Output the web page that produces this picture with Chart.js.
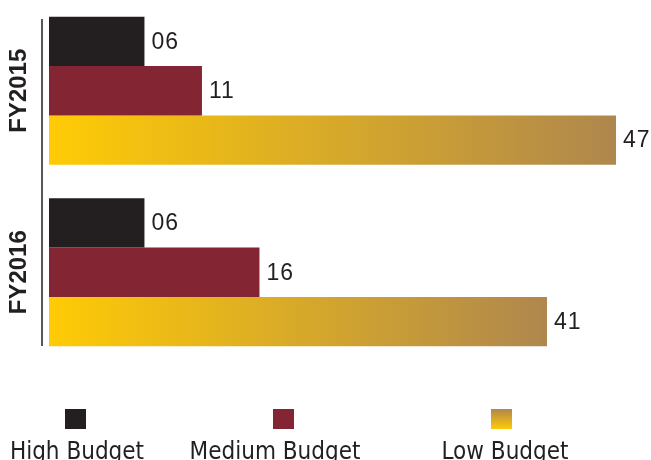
<!DOCTYPE html>
<html>
<head>
<meta charset="utf-8">
<script src="https://cdn.jsdelivr.net/npm/chart.js@4.4.0/dist/chart.umd.min.js"></script>
<style>
  html, body { margin: 0; padding: 0; background: #fff; }
  canvas { display: block; }
</style>
</head>
<body>
<canvas id="budgetChart" width="651" height="460"></canvas>
<script>
const years = ["FY2015", "FY2016"];
const seriesNames = ["High Budget", "Medium Budget", "Low Budget"];
const highBudget = [6, 6];
const mediumBudget = [11, 16];
const lowBudget = [47, 41];

// the infographic bars don't start at zero, so the value axis starts a bit below it
const axisStart = -2.3;
const axisEnd = 47;

const ink = "#231f20";
const maroon = "#842534";
const goldStops = ["#ffcb05", "#af874e"];

function goldBar(c) {
  const chart = c.chart;
  if (!chart.chartArea) return goldStops[0];
  const x = chart.scales.x;
  const x0 = x.getPixelForValue(axisStart);
  const x1 = x.getPixelForValue(c.raw);
  const g = chart.ctx.createLinearGradient(x0, 0, x1, 0);
  g.addColorStop(0, goldStops[0]);
  g.addColorStop(1, goldStops[1]);
  return g;
}

// axis line, rotated year labels, value labels, legend
const decorations = {
  id: "decorations",
  afterDatasetsDraw(chart) {
    const ctx = chart.ctx;
    const area = chart.chartArea;
    const y = chart.scales.y;
    ctx.save();

    ctx.strokeStyle = ink;
    ctx.lineWidth = 1.5;
    ctx.beginPath();
    ctx.moveTo(42, area.top + 19);
    ctx.lineTo(42, area.bottom - 17);
    ctx.stroke();

    ctx.fillStyle = ink;
    ctx.font = "bold 24px 'Liberation Sans', Arial, sans-serif";
    ctx.textAlign = "center";
    ctx.textBaseline = "middle";
    years.forEach((label, i) => {
      ctx.save();
      ctx.translate(19, y.getPixelForValue(i));
      ctx.rotate(-Math.PI / 2);
      ctx.fillText(label, 0, 0);
      ctx.restore();
    });

    ctx.font = "23px 'Liberation Sans', Arial, sans-serif";
    ctx.letterSpacing = "1px";
    ctx.textAlign = "left";
    chart.data.datasets.forEach((ds, di) => {
      chart.getDatasetMeta(di).data.forEach((bar, i) => {
        ctx.fillText(String(ds.data[i]).padStart(2, "0"), bar.x + 7, bar.y + 1);
      });
    });
    ctx.letterSpacing = "0px";

    const centers = [77, 275, 505];
    const boxes = [75.5, 283.5, 501.5];
    ctx.font = "24px 'DejaVu Sans Condensed', 'DejaVu Sans', sans-serif";
    ctx.textAlign = "center";
    ctx.textBaseline = "alphabetic";
    seriesNames.forEach((name, i) => {
      if (i === 2) {
        const g = ctx.createLinearGradient(0, 409, 0, 429);
        g.addColorStop(0, goldStops[1]);
        g.addColorStop(1, goldStops[0]);
        ctx.fillStyle = g;
      } else {
        ctx.fillStyle = i === 0 ? ink : maroon;
      }
      ctx.fillRect(boxes[i] - 10.5, 409, 21, 20);
      ctx.fillStyle = ink;
      ctx.fillText(name, centers[i], 459);
    });
    ctx.restore();
  }
};

new Chart(document.getElementById("budgetChart"), {
  type: "bar",
  plugins: [decorations],
  data: {
    labels: years,
    datasets: [
      { label: seriesNames[0], data: highBudget, backgroundColor: ink },
      { label: seriesNames[1], data: mediumBudget, backgroundColor: maroon },
      { label: seriesNames[2], data: lowBudget, backgroundColor: goldBar }
    ]
  },
  options: {
    indexAxis: "y",
    responsive: false,
    animation: false,
    layout: { padding: { left: 49, right: 35, top: 0, bottom: 97 } },
    datasets: { bar: { barPercentage: 1, categoryPercentage: 0.815, base: axisStart } },
    scales: {
      x: { display: false, min: axisStart, max: axisEnd },
      y: { display: false }
    },
    plugins: {
      legend: { display: false },
      tooltip: { enabled: false }
    }
  }
});
</script>
</body>
</html>
